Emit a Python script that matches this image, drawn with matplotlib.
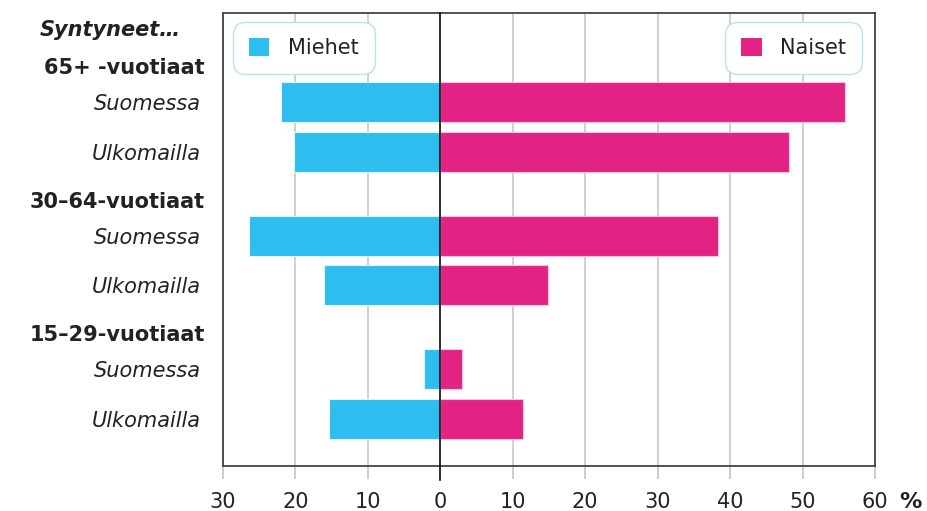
import numpy as np
import matplotlib; matplotlib.use("Agg")
import matplotlib.pyplot as plt
from matplotlib.patches import Patch

# ---- data (%) ----
groups = ["65+ -vuotiaat", "30\u201364-vuotiaat", "15\u201329-vuotiaat"]
rows = ["Suomessa", "Ulkomailla"]
men = [22.0, 20.2, 26.4, 16.1, 2.2, 15.4]
women = [55.8, 48.1, 38.3, 14.9, 3.0, 11.4]
xticks = [-30, -20, -10, 0, 10, 20, 30, 40, 50, 60]

C_MEN, C_WOMEN = "#2dbdee", "#e22383"
GROUP_STEP = 2.7                                  # rows + header gap

ypos = np.array([g * GROUP_STEP + i for g in range(len(groups)) for i in range(len(rows))])

fig = plt.figure(figsize=(9.28, 5.11), dpi=100)
ax = fig.add_axes([0.2403, 0.0881, 0.7026, 0.8865])

ax.barh(ypos, -np.array(men), height=0.81, color=C_MEN, edgecolor="#dff4fc", lw=0.8, zorder=2)
ax.barh(ypos, women, height=0.81, color=C_WOMEN, edgecolor="#f7c6de", lw=0.8, zorder=2)

ax.set_xlim(-30, 60)
ax.set_ylim(7.35, -1.80)
ax.set_xticks(xticks)
ax.set_xticklabels([str(abs(t)) for t in xticks], fontsize=15, color="#222222")
ax.tick_params(axis="x", length=9, width=1.2, color="#c4c4c4", pad=10)
ax.xaxis.grid(True, color="#c8c8c8", lw=1.2, zorder=0)
ax.set_axisbelow(True)
for s in ax.spines.values():
    s.set_color("#444444"); s.set_linewidth(1.3)
ax.axvline(0, ymin=-0.03, ymax=1, color="#111111", lw=1.2, clip_on=False, zorder=3)

ax.set_yticks(ypos)
ax.set_yticklabels(rows * len(groups), fontsize=15, style="italic", color="#222222")
ax.tick_params(axis="y", length=0, pad=16)

for g, name in enumerate(groups):
    ax.annotate(name, xy=(-0.028, g * GROUP_STEP - 0.69), xycoords=("axes fraction", "data"),
                ha="right", va="center", fontsize=15, fontweight="bold", color="#222222")
ax.annotate("Syntyneet\u2026", xy=(-0.065, -1.45), xycoords=("axes fraction", "data"),
            ha="right", va="center", fontsize=15, fontweight="bold", style="italic", color="#222222")
ax.annotate("%", xy=(1.054, -0.08), xycoords="axes fraction", ha="center", va="center",
            fontsize=16, fontweight="bold", color="#222222")

leg_kw = dict(fontsize=15, fancybox=True, framealpha=1, edgecolor="#b8e2f0",
              handlelength=1.0, handleheight=1.0, handletextpad=0.9, borderpad=0.75,
              borderaxespad=0, labelcolor="#222222")
l1 = ax.legend(handles=[Patch(facecolor=C_MEN, label="Miehet")], loc="upper left",
               bbox_to_anchor=(0.0153, 0.980), **leg_kw)
l1.get_frame().set_boxstyle("round,pad=0,rounding_size=0.6")
ax.add_artist(l1)
l2 = ax.legend(handles=[Patch(facecolor=C_WOMEN, label="Naiset")], loc="upper right",
               bbox_to_anchor=(0.980, 0.980), **leg_kw)
l2.get_frame().set_boxstyle("round,pad=0,rounding_size=0.6")

fig.savefig("out.png", dpi=100)
